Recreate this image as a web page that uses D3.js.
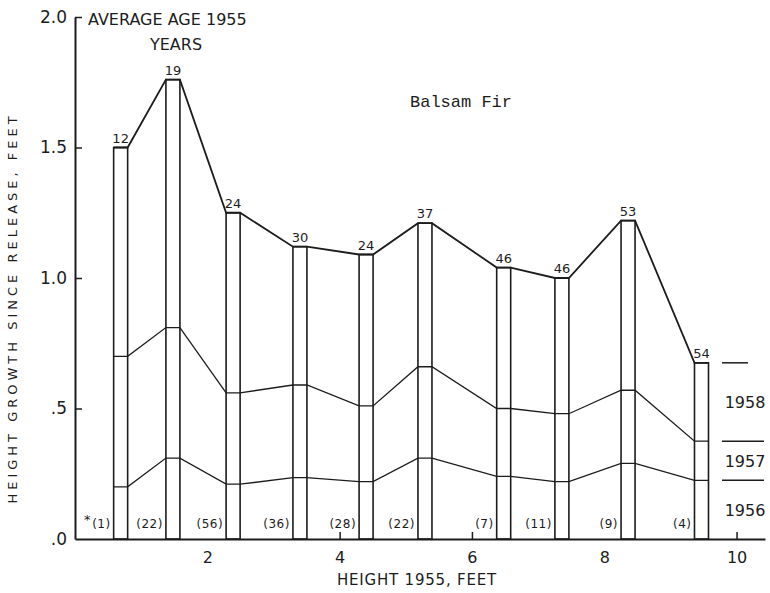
<!DOCTYPE html>
<html>
<head>
<meta charset="utf-8">
<script src="https://cdn.jsdelivr.net/npm/d3@7"></script>
<style>
  body { margin: 0; background: #fff; }
  text { fill: #1c1c1c; font-family: "DejaVu Sans", sans-serif; }
</style>
</head>
<body>
<div id="chart"></div>
<script>
// data
const heights1955 = [0.69, 1.48, 2.39, 3.40, 4.40, 5.29, 6.48, 7.36, 8.36, 9.47];
const growth1958 = [1.50, 1.76, 1.25, 1.12, 1.09, 1.21, 1.04, 1.00, 1.22, 0.675];
const growth1957 = [0.70, 0.81, 0.56, 0.59, 0.51, 0.66, 0.50, 0.48, 0.57, 0.375];
const growth1956 = [0.20, 0.31, 0.21, 0.235, 0.22, 0.31, 0.24, 0.22, 0.29, 0.225];
const averageAges = [12, 19, 24, 30, 24, 37, 46, 46, 53, 54];
const treeCounts = [1, 22, 56, 36, 28, 22, 7, 11, 9, 4];
const xTicks = [2, 4, 6, 8, 10];
const yTicks = [0, 0.5, 1.0, 1.5, 2.0];
const yTickLabels = ['.0', '.5', '1.0', '1.5', '2.0'];
const yearLabels = ['1958', '1957', '1956'];

const width = 770, height = 593;
const ink = '#1c1c1c';
const barWidth = 14;

const svg = d3.select('#chart').append('svg')
    .attr('width', width)
    .attr('height', height);

// scales
const x = d3.scaleLinear().domain([0, 10.43]).range([75, 765]);
const y = d3.scaleLinear().domain([0, 2]).range([539, 17]);

// axes
const xAxis = d3.axisBottom(x).tickValues(xTicks).tickSizeInner(-7).tickSizeOuter(0).tickPadding(13);
const yAxis = d3.axisLeft(y).tickValues(yTicks).tickSizeInner(-7).tickSizeOuter(0).tickPadding(8)
    .tickFormat((d, i) => yTickLabels[i]);

const xAxisGroup = svg.append('g').attr('transform', `translate(0,${y(0)})`).call(xAxis);
const yAxisGroup = svg.append('g').attr('transform', `translate(${x(0)},0)`).call(yAxis);

[xAxisGroup, yAxisGroup].forEach(g => {
    g.select('.domain').attr('stroke', ink).attr('stroke-width', 2);
    g.selectAll('.tick line').attr('stroke', ink).attr('stroke-width', 1.5);
    g.selectAll('.tick text').attr('fill', ink).style('font-family', '"DejaVu Sans", sans-serif');
});
xAxisGroup.selectAll('.tick text').attr('font-size', 16);
yAxisGroup.selectAll('.tick text').attr('font-size', 17);
yAxisGroup.selectAll('.tick line').filter(d => d === 0).remove();
xAxisGroup.selectAll('.tick line').filter(d => d === 2 || d === 8).remove();

// axis titles
svg.append('text')
    .attr('x', 417).attr('y', 585)
    .attr('text-anchor', 'middle')
    .attr('font-size', 15)
    .attr('letter-spacing', 0.8)
    .text('HEIGHT 1955, FEET');

svg.append('text')
    .attr('transform', 'translate(17,308) rotate(-90)')
    .attr('text-anchor', 'middle')
    .attr('font-size', 13)
    .attr('letter-spacing', 4)
    .text('HEIGHT GROWTH SINCE RELEASE, FEET');

// heading texts
svg.append('text')
    .attr('x', 88).attr('y', 25)
    .attr('font-size', 16)
    .text('AVERAGE AGE 1955');
svg.append('text')
    .attr('x', 176).attr('y', 50)
    .attr('text-anchor', 'middle')
    .attr('font-size', 16)
    .text('YEARS');

svg.append('text')
    .attr('x', 410).attr('y', 107)
    .attr('font-size', 17)
    .style('font-family', '"Liberation Mono", "DejaVu Sans Mono", monospace')
    .text('Balsam Fir');

// bars
const bars = heights1955.map((h, i) => ({
    left: x(h) - barWidth / 2,
    right: x(h) + barWidth / 2,
    total: growth1958[i], y57: growth1957[i], y56: growth1956[i],
    age: averageAges[i], count: treeCounts[i]
}));

svg.append('g').selectAll('rect')
    .data(bars)
    .join('rect')
    .attr('x', d => d.left)
    .attr('y', d => y(d.total))
    .attr('width', barWidth)
    .attr('height', d => y(0) - y(d.total))
    .attr('fill', 'none')
    .attr('stroke', ink)
    .attr('stroke-width', 1.6);

// cumulative lines, flat across each bar
const line = d3.line().x(p => p[0]).y(p => y(p[1]));
const series = [growth1958, growth1957, growth1956];
svg.append('g').selectAll('path')
    .data(series)
    .join('path')
    .attr('d', vals => line(bars.flatMap((b, i) => [[b.left, vals[i]], [b.right, vals[i]]])))
    .attr('fill', 'none')
    .attr('stroke', ink)
    .attr('stroke-width', (d, i) => i === 0 ? 1.8 : 1.3);

// average age labels
svg.append('g').selectAll('text')
    .data(bars)
    .join('text')
    .attr('x', d => (d.left + d.right) / 2)
    .attr('y', d => y(d.total) - 5)
    .attr('text-anchor', 'middle')
    .attr('font-size', 13)
    .text(d => d.age);

// tree counts
svg.append('g').selectAll('text')
    .data(bars)
    .join('text')
    .attr('x', d => d.left - 3)
    .attr('y', 528)
    .attr('text-anchor', 'end')
    .attr('font-size', 12)
    .attr('letter-spacing', 0.5)
    .text(d => `(${d.count})`);
svg.append('text')
    .attr('x', 84).attr('y', 524)
    .attr('font-size', 13)
    .text('*');

// year legend at right, aligned to last bar
const last = bars[bars.length - 1];
const levels = [last.total, last.y57, last.y56, 0];
svg.append('g').selectAll('line')
    .data(levels.slice(0, 3))
    .join('line')
    .attr('x1', 722).attr('x2', (d, i) => i === 0 ? 748 : 764)
    .attr('y1', d => y(d)).attr('y2', d => y(d))
    .attr('stroke', ink)
    .attr('stroke-width', 1.5);

svg.append('g').selectAll('text')
    .data(yearLabels)
    .join('text')
    .attr('x', 745)
    .attr('y', (d, i) => y((levels[i] + levels[i + 1]) / 2) + 6)
    .attr('text-anchor', 'middle')
    .attr('font-size', 16)
    .text(d => d);
</script>
</body>
</html>
